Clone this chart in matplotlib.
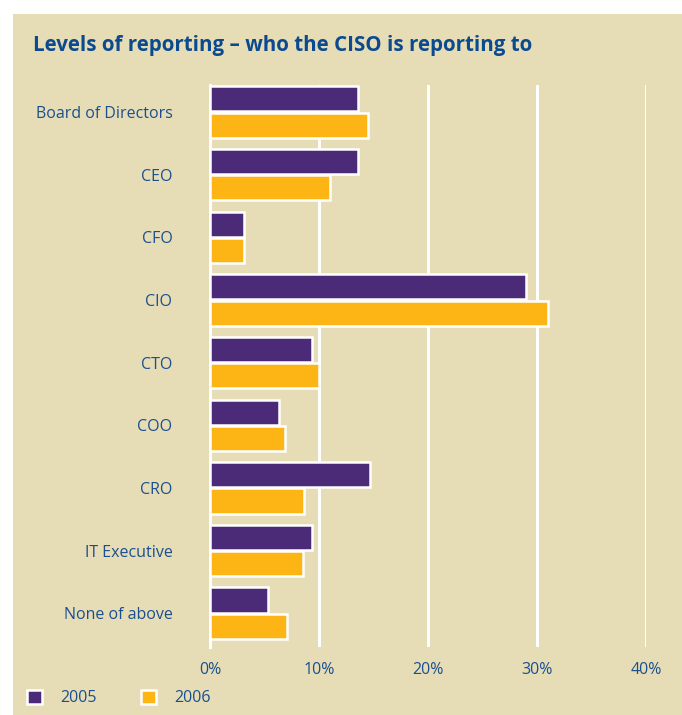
import matplotlib
matplotlib.use("Agg")
import matplotlib.pyplot as plt
from matplotlib.patches import Rectangle, Patch
import numpy as np

categories = ["Board of Directors", "CEO", "CFO", "CIO", "CTO", "COO", "CRO",
              "IT Executive", "None of above"]
values_2005 = [13.6, 13.6, 3.1, 29.0, 9.4, 6.3, 14.7, 9.4, 5.3]
values_2006 = [14.5, 11.0, 3.1, 31.0, 10.0, 6.9, 8.6, 8.5, 7.1]
series_labels = ["2005", "2006"]
x_ticks = [0, 10, 20, 30, 40]
x_tick_labels = ["0%", "10%", "20%", "30%", "40%"]
title = "Levels of reporting \u2013 who the CISO is reporting to"

BG = "#e6ddb7"
PURPLE = "#4b2a78"
ORANGE = "#fdb515"
BLUE = "#1a4f8f"
TITLE_BLUE = "#0b4a8f"

plt.rcParams["font.family"] = ["Open Sans", "DejaVu Sans"]

W, H = 682, 715
fig = plt.figure(figsize=(W / 100, H / 100), dpi=100)
fig.patch.set_facecolor("white")

# panel background
fig.add_artist(Rectangle((13 / W, 0), 1 - 13 / W, 1 - 14 / H,
                         transform=fig.transFigure, facecolor=BG,
                         edgecolor="none", zorder=0))

fig.text(33 / W, 1 - 45 / H, title, color=TITLE_BLUE, fontsize=14.8,
         fontweight="bold", va="center", ha="left")

ax = fig.add_axes([210 / W, (H - 647) / H, (646 - 210) / W, (647 - 85) / H])
ax.set_facecolor("none")

y = np.arange(len(categories))
h = 0.40
off = 0.21
ax.barh(y - off, values_2005, height=h, color=PURPLE, edgecolor="white",
        linewidth=1.8, zorder=3, label=series_labels[0])
ax.barh(y + off, values_2006, height=h, color=ORANGE, edgecolor="white",
        linewidth=1.8, zorder=3, label=series_labels[1])

ax.set_xlim(0, 40)
ax.set_ylim(8.54, -0.43)
ax.set_xticks(x_ticks)
ax.set_xticklabels(x_tick_labels)
ax.set_yticks(y)
ax.set_yticklabels(categories)
for lbl in ax.get_yticklabels():
    lbl.set_va("bottom")
    lbl.set_y(0)
for sp in ["top", "right", "bottom"]:
    ax.spines[sp].set_visible(False)
ax.spines["left"].set_color("white")
ax.spines["left"].set_linewidth(2.2)
ax.spines["left"].set_zorder(2)
ax.xaxis.grid(True, color="white", linewidth=2.2, zorder=1)
ax.set_axisbelow(True)
ax.tick_params(axis="both", length=0, labelcolor=BLUE, labelsize=11.5)
ax.tick_params(axis="x", pad=11)
ax.tick_params(axis="y", pad=27)
for lbl in ax.get_yticklabels():
    lbl.set_va("center_baseline")

handles = [Patch(facecolor=PURPLE, edgecolor="white", linewidth=1.8),
           Patch(facecolor=ORANGE, edgecolor="white", linewidth=1.8)]
leg = fig.legend(handles, series_labels, loc="center left",
                 bbox_to_anchor=(27 / W, 1 - 698 / H), ncol=2, frameon=False,
                 handlelength=0.94, handleheight=1.06, handletextpad=1.13,
                 columnspacing=2.8, fontsize=11.5, borderaxespad=0,
                 borderpad=0)
for t in leg.get_texts():
    t.set_color(BLUE)

fig.savefig("out.png", dpi=100, facecolor=fig.get_facecolor())
